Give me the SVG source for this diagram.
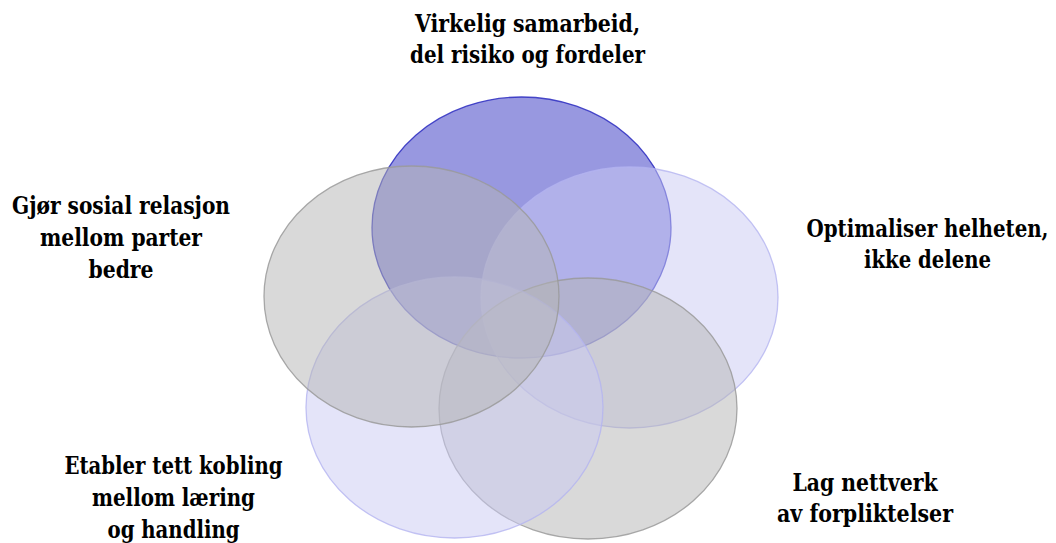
<svg xmlns="http://www.w3.org/2000/svg" width="1056" height="543" viewBox="0 0 1056 543">
  <style>
    .lbl { font-family: "DejaVu Serif Condensed", "DejaVu Serif", serif; font-weight: bold; font-size: 24.5px; fill: #000; text-anchor: middle; }
    .end { text-anchor: end; }
    .blue { fill: #3131C1; fill-opacity: 0.5; stroke: #2A2AC0; stroke-opacity: 0.85; stroke-width: 1.3; }
    .light { fill: #C9C9F3; fill-opacity: 0.5; stroke: #B4B4F0; stroke-opacity: 0.8; stroke-width: 1.3; }
    .gray { fill: #B3B3B3; fill-opacity: 0.5; stroke: #9A9A9A; stroke-opacity: 0.85; stroke-width: 1.3; }
  </style>
  <rect width="1056" height="543" fill="#FFFFFF"/>

  <!-- overlapping ellipses, drawn clockwise from the top -->
  <g id="top">
    <ellipse class="blue" cx="521.5" cy="227.5" rx="149.5" ry="130.5"/>
  </g>
  <g id="right">
    <ellipse class="light" cx="629.5" cy="297.5" rx="148.5" ry="130.5"/>
  </g>
  <g id="bottom-right">
    <ellipse class="gray" cx="588" cy="408.5" rx="149" ry="130.5"/>
  </g>
  <g id="bottom-left">
    <ellipse class="light" cx="454.5" cy="407.5" rx="148.5" ry="130.5"/>
  </g>
  <g id="left">
    <ellipse class="gray" cx="411.5" cy="296.5" rx="147.5" ry="130.5"/>
  </g>

  <!-- labels -->
  <g id="label-top">
    <text class="lbl" x="527.5" y="32" textLength="225" lengthAdjust="spacingAndGlyphs">Virkelig samarbeid,</text>
    <text class="lbl" x="527.5" y="63" textLength="235" lengthAdjust="spacingAndGlyphs">del risiko og fordeler</text>
  </g>
  <g id="label-left">
    <text class="lbl" x="121" y="214" textLength="218" lengthAdjust="spacingAndGlyphs">Gjør sosial relasjon</text>
    <text class="lbl" x="121" y="246" textLength="162" lengthAdjust="spacingAndGlyphs">mellom parter</text>
    <text class="lbl" x="121" y="278" textLength="65" lengthAdjust="spacingAndGlyphs">bedre</text>
  </g>
  <g id="label-right">
    <!-- first line is anchored at its right end so it stays inside the canvas -->
    <text class="lbl end" x="1048.5" y="237" textLength="242" lengthAdjust="spacingAndGlyphs">Optimaliser helheten,</text>
    <text class="lbl" x="927.5" y="268" textLength="127" lengthAdjust="spacingAndGlyphs">ikke delene</text>
  </g>
  <g id="label-bottom-left">
    <text class="lbl" x="173.5" y="474" textLength="218" lengthAdjust="spacingAndGlyphs">Etabler tett kobling</text>
    <text class="lbl" x="173.5" y="506" textLength="163" lengthAdjust="spacingAndGlyphs">mellom læring</text>
    <text class="lbl" x="173.5" y="538" textLength="132" lengthAdjust="spacingAndGlyphs">og handling</text>
  </g>
  <g id="label-bottom-right">
    <text class="lbl" x="865" y="491" textLength="145" lengthAdjust="spacingAndGlyphs">Lag nettverk</text>
    <text class="lbl" x="865" y="522" textLength="176" lengthAdjust="spacingAndGlyphs">av forpliktelser</text>
  </g>
</svg>
